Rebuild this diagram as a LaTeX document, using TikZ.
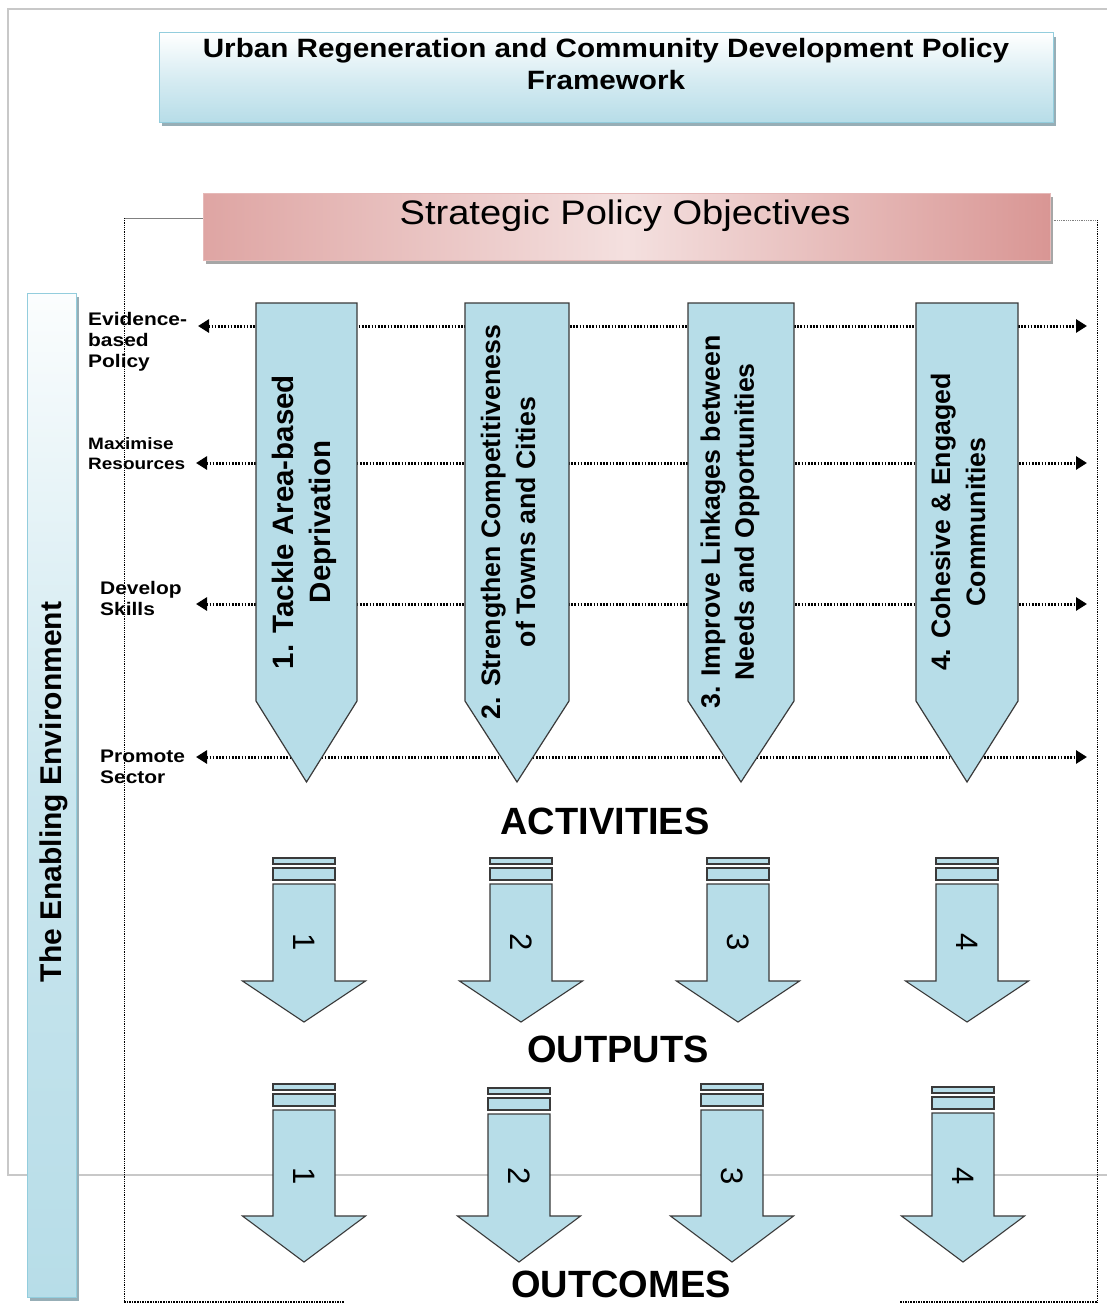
\documentclass[tikz,border=0pt]{standalone}
\usepackage{fontspec}
\setmainfont{Liberation Sans}
\newfontfamily\titlefont[FakeStretch=1.12]{Liberation Sans}
\newfontfamily\lblfont[FakeStretch=1.15]{Liberation Sans}
\usetikzlibrary{arrows.meta}
\definecolor{lb}{HTML}{B7DDE8}
\definecolor{lbborder}{HTML}{93CDDD}
\definecolor{darkb}{HTML}{3A3A3A}
\definecolor{pd}{HTML}{D99694}
\definecolor{pl}{HTML}{F4E0DF}
\definecolor{pborder}{HTML}{E6B9B8}
\definecolor{tshadow}{HTML}{97AEB6}
\definecolor{gshadow}{HTML}{A6A6A6}
\definecolor{framegray}{HTML}{C8C8C8}
\tikzset{
  pent/.style={fill=lb, draw=darkb, line width=1.2pt, line join=miter},
  sbox/.style={fill=lb, draw=darkb, line width=1.1pt},
  dotarrow/.style={line width=3pt, dash pattern=on 1.6pt off 1.6pt,
    {Triangle[length=11pt,width=13pt]}-{Triangle[length=11pt,width=13pt]}},
  ptext/.style={rotate=90, align=center, inner sep=0pt, font=\bfseries},
  lbl/.style={anchor=north west, align=left, inner sep=0pt, font=\lblfont\bfseries\fontsize{18.2}{21}\selectfont},
  big/.style={inner sep=0pt, font=\bfseries\fontsize{38}{40}\selectfont},
  num/.style={rotate=-90, inner sep=0pt, font=\fontsize{31}{33}\selectfont},
}
\newcommand\mysarrow[7]{%
  \draw[sbox] (#2-31,#3) rectangle (#2+31,#3+6);
  \draw[sbox] (#2-31,#3+10) rectangle (#2+31,#3+22);
  \draw[sbox] (#2-31,#3+26) -- (#2+31,#3+26) -- (#2+31,#4) -- (#2+61.5,#4)
     -- (#2,#5) -- (#2-61.5,#4) -- (#2-31,#4) -- cycle;
  \node[num] (#1) at (#2,#6) {#7};
}
\begin{document}
\begin{tikzpicture}[x=1pt,y=-1pt]
\useasboundingbox (0,0) rectangle (1107,1306);
\fill[white] (0,0) rectangle (1107,1306);

% outer gray frame
\draw[framegray, line width=1.3pt] (1107,9) -- (8,9) -- (8,1175) -- (1107,1175);

% dotted frame
\draw[gray, line width=0.8pt] (124,218) -- (205,218);
\draw[gray, line width=0.8pt, densely dotted] (1050,220) -- (1097,220);
\draw[line width=0.8pt, densely dotted] (124,218) -- (124,1302);
\draw[line width=0.8pt, densely dotted] (1097,220) -- (1097,1302);
\draw[line width=1.6pt, densely dotted] (124,1302) -- (345,1302);
\draw[line width=1.6pt, densely dotted] (900,1302) -- (1097,1302);

% horizontal dotted double arrows
\coordinate (L1) at (198,326); \coordinate (R1) at (1087,326);
\coordinate (L2) at (196,463); \coordinate (R2) at (1087,463);
\coordinate (L3) at (196,604); \coordinate (R3) at (1087,604);
\coordinate (L4) at (196,757); \coordinate (R4) at (1087,757);
\draw[dotarrow] (L1) -- (R1);
\draw[dotarrow] (L2) -- (R2);
\draw[dotarrow] (L3) -- (R3);
\draw[dotarrow] (L4) -- (R4);

% pentagon arrows
\draw[pent] (256,303) -- (357,303) -- (357,701) -- (306.5,782) -- (256,701) -- cycle;
\draw[pent] (465,303) -- (569,303) -- (569,701) -- (517,782) -- (465,701) -- cycle;
\draw[pent] (688,303) -- (794,303) -- (794,701) -- (741,782) -- (688,701) -- cycle;
\draw[pent] (916,303) -- (1018,303) -- (1018,701) -- (967,782) -- (916,701) -- cycle;
\node[ptext, font=\bfseries\fontsize{29.5}{37}\selectfont] (o1) at (304,522) {1. Tackle Area-based\\Deprivation};
\node[ptext, font=\bfseries\fontsize{26.7}{35}\selectfont] (o2) at (508,522) {2. Strengthen Competitiveness\\of Towns and Cities};
\node[ptext, font=\bfseries\fontsize{26.7}{34}\selectfont] (o3) at (730,522) {3. Improve Linkages between\\Needs and Opportunities};
\node[ptext, font=\bfseries\fontsize{26.7}{35}\selectfont] (o4) at (958,522) {4. Cohesive \& Engaged\\Communities};

% title box
\fill[tshadow] (162,37) rectangle (1056,126);
\shade[top color=white, bottom color=lb, middle color=lb!55!white, draw=lbborder, line width=1pt] (159,33) rectangle (1053,122);
\node[inner sep=0pt, align=center, font=\titlefont\bfseries\fontsize{26.5}{32}\selectfont] (title) at (606,64) {Urban Regeneration and Community Development Policy\\Framework};

% strategic box
\fill[gshadow] (206,197) rectangle (1053,264);
\shade[left color=pd!80!pl, right color=pd, middle color=pl] (203,193) rectangle (1050,260);
\draw[pborder, line width=0.8pt] (203,193) rectangle (1050,260);
\node[inner sep=0pt, font=\titlefont\fontsize{34}{36}\selectfont] (spo) at (625,216) {Strategic Policy Objectives};

% enabling environment bar
\fill[tshadow] (30,297) rectangle (79,1301);
\shade[top color=white!95!lb, bottom color=lb, middle color=lb!75!white, draw=lbborder, line width=1pt] (27,293) rectangle (76,1297);
\node[rotate=90, inner sep=0pt, font=\bfseries\fontsize{30}{32}\selectfont] (env) at (54,792) {The Enabling Environment};

% left labels
\node[lbl] (lab1) at (88,312) {Evidence-\\based\\Policy};
\node[lbl, font=\lblfont\bfseries\fontsize{16.5}{20}\selectfont] (lab2) at (88,437) {Maximise\\Resources};
\node[lbl] (lab3) at (100,581) {Develop\\Skills};
\node[lbl] (lab4) at (100,750) {Promote\\Sector};

% stage labels
\node[big] (act) at (605,821) {ACTIVITIES};
\node[big] (outp) at (618,1049) {OUTPUTS};
\node[big] (outc) at (621,1284) {OUTCOMES};

% small arrows, row 1
\mysarrow{a1}{304}{858}{981}{1022}{942}{1}
\mysarrow{a2}{521}{858}{981}{1022}{942}{2}
\mysarrow{a3}{738}{858}{981}{1022}{942}{3}
\mysarrow{a4}{967}{858}{981}{1022}{942}{4}
% small arrows, row 2
\mysarrow{b1}{304}{1084}{1216}{1262}{1176}{1}
\mysarrow{b2}{519}{1088}{1216}{1262}{1176}{2}
\mysarrow{b3}{732}{1084}{1216}{1262}{1176}{3}
\mysarrow{b4}{963}{1087}{1216}{1262}{1176}{4}
\end{tikzpicture}
\end{document}
